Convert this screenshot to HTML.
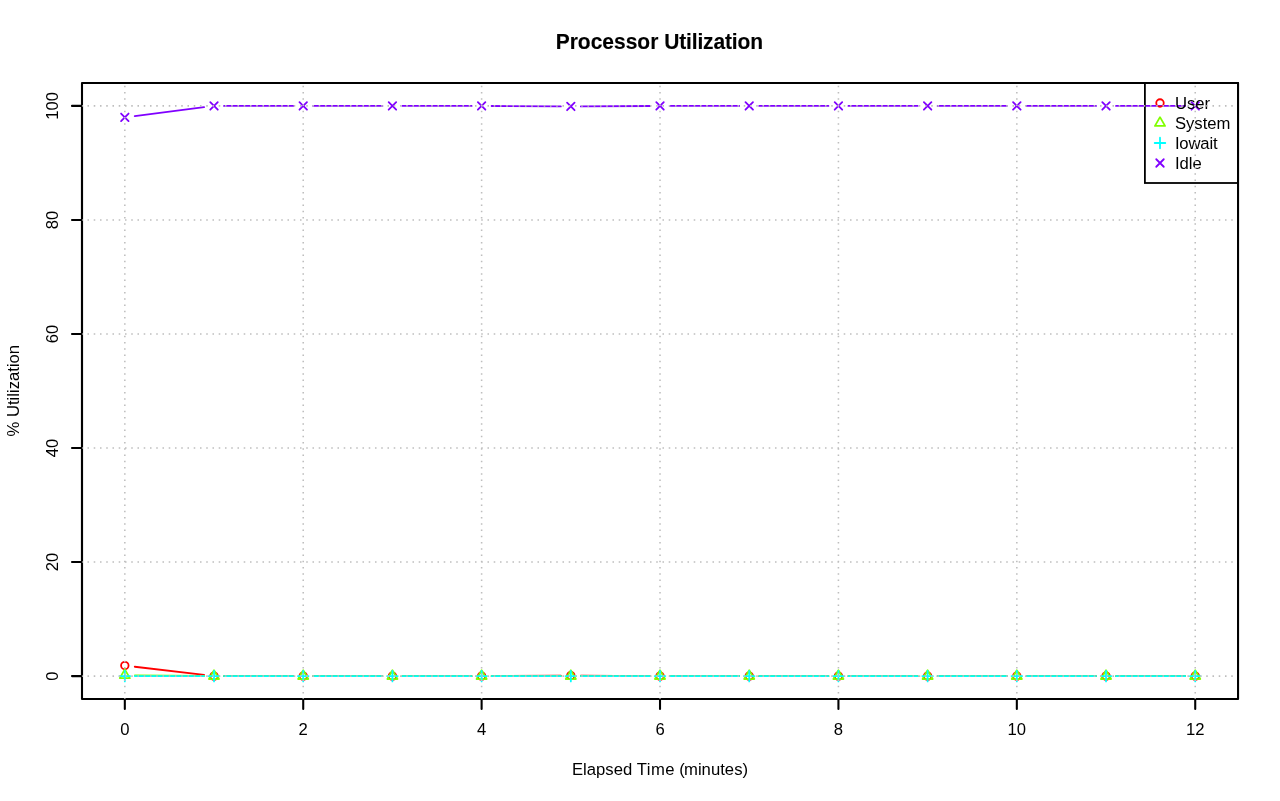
<!DOCTYPE html>
<html lang="en"><head><meta charset="utf-8"><title>Processor Utilization</title>
<style>html,body{margin:0;padding:0;background:#fff;overflow:hidden}svg{display:block;will-change:transform}</style></head>
<body>
<svg width="1280" height="801" viewBox="0 0 1280 801">
<rect width="1280" height="801" fill="#fff"/>
<path d="M134.75 666.74L204.09 674.94M224.02 676.11L293.22 676.11M313.22 676.11L382.42 676.11M402.42 676.11L471.62 676.11M491.62 676.05L560.82 675.6M580.82 675.6L650.03 676.05M670.02 676.11L739.23 676.11M759.23 676.11L828.43 676.11M848.43 676.11L917.63 676.11M937.63 676.11L1006.83 676.11M1026.83 676.11L1096.03 676.11M1116.03 676.11L1185.23 676.11" fill="none" stroke="#FF0000" stroke-width="1.8" stroke-linecap="round"/>
<circle cx="124.82" cy="665.56" r="3.75" fill="none" stroke="#FF0000" stroke-width="1.8"/>
<circle cx="214.02" cy="676.11" r="3.75" fill="none" stroke="#FF0000" stroke-width="1.8"/>
<circle cx="303.22" cy="676.11" r="3.75" fill="none" stroke="#FF0000" stroke-width="1.8"/>
<circle cx="392.42" cy="676.11" r="3.75" fill="none" stroke="#FF0000" stroke-width="1.8"/>
<circle cx="481.62" cy="676.11" r="3.75" fill="none" stroke="#FF0000" stroke-width="1.8"/>
<circle cx="570.82" cy="675.54" r="3.75" fill="none" stroke="#FF0000" stroke-width="1.8"/>
<circle cx="660.02" cy="676.11" r="3.75" fill="none" stroke="#FF0000" stroke-width="1.8"/>
<circle cx="749.23" cy="676.11" r="3.75" fill="none" stroke="#FF0000" stroke-width="1.8"/>
<circle cx="838.43" cy="676.11" r="3.75" fill="none" stroke="#FF0000" stroke-width="1.8"/>
<circle cx="927.63" cy="676.11" r="3.75" fill="none" stroke="#FF0000" stroke-width="1.8"/>
<circle cx="1016.83" cy="676.11" r="3.75" fill="none" stroke="#FF0000" stroke-width="1.8"/>
<circle cx="1106.03" cy="676.11" r="3.75" fill="none" stroke="#FF0000" stroke-width="1.8"/>
<circle cx="1195.23" cy="676.11" r="3.75" fill="none" stroke="#FF0000" stroke-width="1.8"/>
<path d="M134.82 675.3L204.02 676.01M224.02 676.11L293.22 676.11M313.22 676.11L382.42 676.11M402.42 676.11L471.62 676.11M491.62 676.11L560.82 676.11M580.82 676.11L650.02 676.11M670.02 676.11L739.23 676.11M759.23 676.11L828.43 676.11M848.43 676.11L917.63 676.11M937.63 676.11L1006.83 676.11M1026.83 676.11L1096.03 676.11M1116.03 676.11L1185.23 676.11" fill="none" stroke="#80FF00" stroke-width="1.8" stroke-linecap="round"/>
<path d="M124.82 669.37L129.87 678.11L119.77 678.11Z" fill="none" stroke="#80FF00" stroke-width="1.8" stroke-linejoin="round"/>
<path d="M214.02 670.28L219.07 679.03L208.97 679.03Z" fill="none" stroke="#80FF00" stroke-width="1.8" stroke-linejoin="round"/>
<path d="M303.22 670.28L308.27 679.03L298.17 679.03Z" fill="none" stroke="#80FF00" stroke-width="1.8" stroke-linejoin="round"/>
<path d="M392.42 670.28L397.47 679.03L387.37 679.03Z" fill="none" stroke="#80FF00" stroke-width="1.8" stroke-linejoin="round"/>
<path d="M481.62 670.28L486.67 679.03L476.57 679.03Z" fill="none" stroke="#80FF00" stroke-width="1.8" stroke-linejoin="round"/>
<path d="M570.82 670.28L575.87 679.03L565.77 679.03Z" fill="none" stroke="#80FF00" stroke-width="1.8" stroke-linejoin="round"/>
<path d="M660.02 670.28L665.08 679.03L654.97 679.03Z" fill="none" stroke="#80FF00" stroke-width="1.8" stroke-linejoin="round"/>
<path d="M749.23 670.28L754.28 679.03L744.18 679.03Z" fill="none" stroke="#80FF00" stroke-width="1.8" stroke-linejoin="round"/>
<path d="M838.43 670.28L843.48 679.03L833.38 679.03Z" fill="none" stroke="#80FF00" stroke-width="1.8" stroke-linejoin="round"/>
<path d="M927.63 670.28L932.68 679.03L922.58 679.03Z" fill="none" stroke="#80FF00" stroke-width="1.8" stroke-linejoin="round"/>
<path d="M1016.83 670.28L1021.88 679.03L1011.78 679.03Z" fill="none" stroke="#80FF00" stroke-width="1.8" stroke-linejoin="round"/>
<path d="M1106.03 670.28L1111.08 679.03L1100.98 679.03Z" fill="none" stroke="#80FF00" stroke-width="1.8" stroke-linejoin="round"/>
<path d="M1195.23 670.28L1200.28 679.03L1190.18 679.03Z" fill="none" stroke="#80FF00" stroke-width="1.8" stroke-linejoin="round"/>
<path d="M134.82 676.11L204.02 676.11M224.02 676.11L293.22 676.11M313.22 676.11L382.42 676.11M402.42 676.11L471.62 676.11M491.62 676.11L560.82 676.11M580.82 676.11L650.02 676.11M670.02 676.11L739.23 676.11M759.23 676.11L828.43 676.11M848.43 676.11L917.63 676.11M937.63 676.11L1006.83 676.11M1026.83 676.11L1096.03 676.11M1116.03 676.11L1185.23 676.11" fill="none" stroke="#00FFFF" stroke-width="1.8" stroke-linecap="round"/>
<path d="M119.51 676.11H130.12M124.82 670.81V681.41" fill="none" stroke="#00FFFF" stroke-width="1.8" stroke-linecap="round"/>
<path d="M208.71 676.11H219.32M214.02 670.81V681.41" fill="none" stroke="#00FFFF" stroke-width="1.8" stroke-linecap="round"/>
<path d="M297.92 676.11H308.52M303.22 670.81V681.41" fill="none" stroke="#00FFFF" stroke-width="1.8" stroke-linecap="round"/>
<path d="M387.12 676.11H397.72M392.42 670.81V681.41" fill="none" stroke="#00FFFF" stroke-width="1.8" stroke-linecap="round"/>
<path d="M476.32 676.11H486.93M481.62 670.81V681.41" fill="none" stroke="#00FFFF" stroke-width="1.8" stroke-linecap="round"/>
<path d="M565.52 676.11H576.13M570.82 670.81V681.41" fill="none" stroke="#00FFFF" stroke-width="1.8" stroke-linecap="round"/>
<path d="M654.72 676.11H665.33M660.02 670.81V681.41" fill="none" stroke="#00FFFF" stroke-width="1.8" stroke-linecap="round"/>
<path d="M743.92 676.11H754.53M749.23 670.81V681.41" fill="none" stroke="#00FFFF" stroke-width="1.8" stroke-linecap="round"/>
<path d="M833.12 676.11H843.73M838.43 670.81V681.41" fill="none" stroke="#00FFFF" stroke-width="1.8" stroke-linecap="round"/>
<path d="M922.33 676.11H932.93M927.63 670.81V681.41" fill="none" stroke="#00FFFF" stroke-width="1.8" stroke-linecap="round"/>
<path d="M1011.53 676.11H1022.13M1016.83 670.81V681.41" fill="none" stroke="#00FFFF" stroke-width="1.8" stroke-linecap="round"/>
<path d="M1100.73 676.11H1111.34M1106.03 670.81V681.41" fill="none" stroke="#00FFFF" stroke-width="1.8" stroke-linecap="round"/>
<path d="M1189.93 676.11H1200.54M1195.23 670.81V681.41" fill="none" stroke="#00FFFF" stroke-width="1.8" stroke-linecap="round"/>
<path d="M134.74 116.03L204.1 107.21M224.02 105.95L293.22 105.95M313.22 105.95L382.42 105.95M402.42 105.95L471.62 105.95M491.62 106L560.82 106.4M580.82 106.4L650.03 106M670.02 105.95L739.23 105.95M759.23 105.95L828.43 105.95M848.43 105.95L917.63 105.95M937.63 105.95L1006.83 105.95M1026.83 105.95L1096.03 105.95M1116.03 105.95L1185.23 105.95" fill="none" stroke="#8000FF" stroke-width="1.8" stroke-linecap="round"/>
<path d="M121.07 113.54L128.57 121.04M121.07 121.04L128.57 113.54" fill="none" stroke="#8000FF" stroke-width="1.8" stroke-linecap="round"/>
<path d="M210.27 102.2L217.77 109.7M210.27 109.7L217.77 102.2" fill="none" stroke="#8000FF" stroke-width="1.8" stroke-linecap="round"/>
<path d="M299.47 102.2L306.97 109.7M299.47 109.7L306.97 102.2" fill="none" stroke="#8000FF" stroke-width="1.8" stroke-linecap="round"/>
<path d="M388.67 102.2L396.17 109.7M388.67 109.7L396.17 102.2" fill="none" stroke="#8000FF" stroke-width="1.8" stroke-linecap="round"/>
<path d="M477.87 102.2L485.37 109.7M477.87 109.7L485.37 102.2" fill="none" stroke="#8000FF" stroke-width="1.8" stroke-linecap="round"/>
<path d="M567.07 102.71L574.57 110.21M567.07 110.21L574.57 102.71" fill="none" stroke="#8000FF" stroke-width="1.8" stroke-linecap="round"/>
<path d="M656.27 102.2L663.77 109.7M656.27 109.7L663.77 102.2" fill="none" stroke="#8000FF" stroke-width="1.8" stroke-linecap="round"/>
<path d="M745.48 102.2L752.98 109.7M745.48 109.7L752.98 102.2" fill="none" stroke="#8000FF" stroke-width="1.8" stroke-linecap="round"/>
<path d="M834.68 102.2L842.18 109.7M834.68 109.7L842.18 102.2" fill="none" stroke="#8000FF" stroke-width="1.8" stroke-linecap="round"/>
<path d="M923.88 102.2L931.38 109.7M923.88 109.7L931.38 102.2" fill="none" stroke="#8000FF" stroke-width="1.8" stroke-linecap="round"/>
<path d="M1013.08 102.2L1020.58 109.7M1013.08 109.7L1020.58 102.2" fill="none" stroke="#8000FF" stroke-width="1.8" stroke-linecap="round"/>
<path d="M1102.28 102.2L1109.78 109.7M1102.28 109.7L1109.78 102.2" fill="none" stroke="#8000FF" stroke-width="1.8" stroke-linecap="round"/>
<path d="M1191.48 102.2L1198.98 109.7M1191.48 109.7L1198.98 102.2" fill="none" stroke="#8000FF" stroke-width="1.8" stroke-linecap="round"/>
<g fill="none" stroke="#000" stroke-width="2.08" stroke-linecap="round" stroke-linejoin="round">
<rect x="82.0" y="83.08" width="1156.05" height="615.8399999999999"/>
<path d="M124.82 698.92H1195.23M124.82 698.92v10M303.22 698.92v10M481.62 698.92v10M660.02 698.92v10M838.43 698.92v10M1016.83 698.92v10M1195.23 698.92v10M82.0 676.11V105.89M82.0 676.11h-10M82.0 562.07h-10M82.0 448.02h-10M82.0 333.98h-10M82.0 219.93h-10M82.0 105.89h-10"/>
</g>
<g font-family="Liberation Sans, sans-serif" font-size="16.67px" fill="#000" text-anchor="middle">
<text x="124.82" y="735">0</text>
<text x="303.22" y="735">2</text>
<text x="481.62" y="735">4</text>
<text x="660.02" y="735">6</text>
<text x="838.43" y="735">8</text>
<text x="1016.83" y="735">10</text>
<text x="1195.23" y="735">12</text>
<text transform="translate(58 676.11) rotate(-90)">0</text>
<text transform="translate(58 562.07) rotate(-90)">20</text>
<text transform="translate(58 448.02) rotate(-90)">40</text>
<text transform="translate(58 333.98) rotate(-90)">60</text>
<text transform="translate(58 219.93) rotate(-90)">80</text>
<text transform="translate(58 105.89) rotate(-90)">100</text>
<text x="572.0" y="774.6" text-anchor="start">Elapsed <tspan letter-spacing="0.42">Time</tspan> <tspan dx="-0.2">(</tspan><tspan dx="-0.9" letter-spacing="0.03">minutes)</tspan></text>
<text transform="translate(18.8 390.7) rotate(-90)">% Utilization</text>
<text transform="translate(555.7 49) scale(1 1.025)" text-anchor="start" font-size="21.0px" font-weight="bold" stroke="#000" stroke-width="0.12">Processor <tspan letter-spacing="-0.15">Utilization</tspan></text>
</g>
<rect x="1144.9" y="83.0" width="93.09999999999991" height="100.0" fill="none" stroke="#000" stroke-width="1.8"/>
<circle cx="1160" cy="103" r="3.75" fill="none" stroke="#FF0000" stroke-width="1.8"/>
<path d="M1160 117.17L1165.05 125.92L1154.95 125.92Z" fill="none" stroke="#80FF00" stroke-width="1.8" stroke-linejoin="round"/>
<path d="M1154.7 143H1165.3M1160 137.7V148.3" fill="none" stroke="#00FFFF" stroke-width="1.8" stroke-linecap="round"/>
<path d="M1156.25 159.25L1163.75 166.75M1156.25 166.75L1163.75 159.25" fill="none" stroke="#8000FF" stroke-width="1.8" stroke-linecap="round"/>
<g font-family="Liberation Sans, sans-serif" font-size="16.67px" fill="#000">
<text x="1174.9" y="109">User</text>
<text x="1174.9" y="129">System</text>
<text x="1174.9" y="149" letter-spacing="-0.15">Iowait</text>
<text x="1174.9" y="169">Idle</text>
</g>
<g fill="none" stroke="#BEBEBE" stroke-width="1.56" stroke-dasharray="1.56 4.69" stroke-dashoffset="0.78">
<path d="M124.82 698.92V83.08M303.22 698.92V83.08M481.62 698.92V83.08M660.02 698.92V83.08M838.43 698.92V83.08M1016.83 698.92V83.08M1195.23 698.92V83.08M82.0 676.11H1237.05M82.0 562.07H1237.05M82.0 448.02H1237.05M82.0 333.98H1237.05M82.0 219.93H1237.05M82.0 105.89H1237.05"/>
</g>
</svg>
</body></html>
